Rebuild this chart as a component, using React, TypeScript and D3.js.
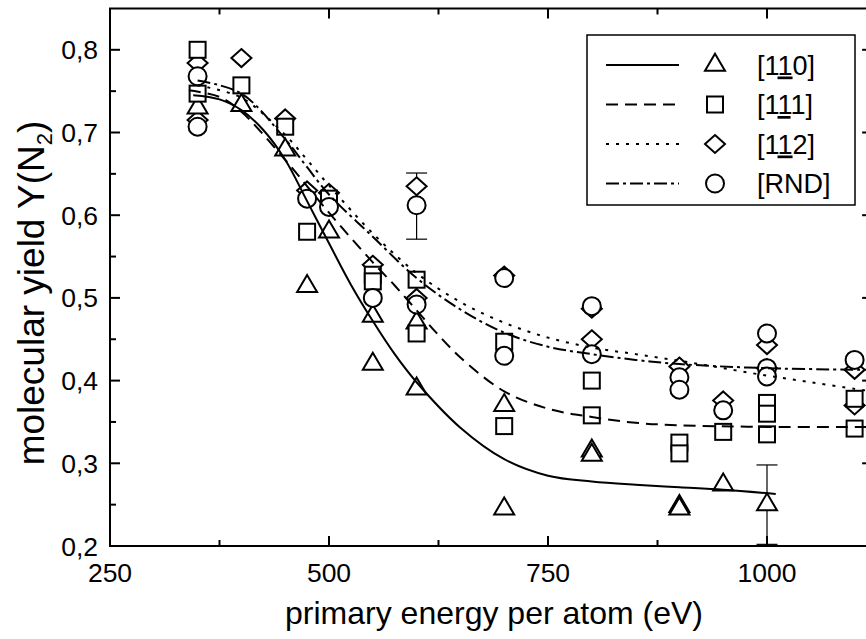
import React from "react";
import * as d3 from "d3";

// ---- data ----
const tri110: [number, number][] = [
  [350, 0.73], [400, 0.733], [450, 0.679], [475, 0.514], [500, 0.58],
  [550, 0.478], [550, 0.42], [600, 0.47], [600, 0.39], [700, 0.37], [700, 0.245],
  [800, 0.315], [800, 0.31], [900, 0.248], [900, 0.245], [950, 0.274], [1000, 0.25],
];
const sq111: [number, number][] = [
  [350, 0.8], [350, 0.747], [400, 0.757], [450, 0.707], [475, 0.58], [500, 0.62],
  [550, 0.528], [550, 0.52], [600, 0.522], [600, 0.457], [700, 0.447], [700, 0.345],
  [800, 0.4], [800, 0.358], [900, 0.325], [900, 0.312], [950, 0.338],
  [1000, 0.373], [1000, 0.36], [1000, 0.335], [1100, 0.378], [1100, 0.342],
];
const dia112: [number, number][] = [
  [350, 0.784], [350, 0.715], [400, 0.79], [450, 0.717], [475, 0.63], [500, 0.627],
  [550, 0.54], [600, 0.635], [600, 0.5], [700, 0.527], [800, 0.487], [800, 0.45],
  [900, 0.417], [950, 0.376], [1000, 0.443], [1000, 0.415], [1100, 0.413], [1100, 0.37],
];
const circRND: [number, number][] = [
  [350, 0.768], [350, 0.707], [475, 0.62], [500, 0.61], [550, 0.5], [600, 0.612],
  [600, 0.492], [700, 0.524], [700, 0.43], [800, 0.49], [800, 0.432], [900, 0.404],
  [900, 0.389], [950, 0.364], [1000, 0.457], [1000, 0.415], [1000, 0.405], [1100, 0.425],
];
// error bars: [x, center, half-width]
const errorBars: [number, number, number][] = [
  [600, 0.611, 0.04],
  [1000, 0.25, 0.048],
];
// fitted curves
const fit110: [number, number][] = [
  [345, 0.745], [375, 0.74], [400, 0.727], [425, 0.703], [450, 0.667], [475, 0.617],
  [500, 0.566], [525, 0.516], [550, 0.472], [575, 0.432], [600, 0.398], [650, 0.343],
  [700, 0.305], [750, 0.285], [800, 0.278], [850, 0.274], [900, 0.271], [950, 0.268], [1010, 0.263],
];
const fit111: [number, number][] = [
  [340, 0.751], [375, 0.743], [400, 0.725], [450, 0.667], [500, 0.603], [550, 0.543],
  [575, 0.515], [600, 0.485], [625, 0.455], [650, 0.428], [700, 0.387], [750, 0.366],
  [800, 0.356], [850, 0.349], [900, 0.346], [1000, 0.344], [1120, 0.344],
];
const fit112: [number, number][] = [
  [350, 0.757], [400, 0.742], [450, 0.697], [475, 0.667], [500, 0.636], [550, 0.578],
  [600, 0.53], [650, 0.495], [700, 0.47], [750, 0.452], [800, 0.44], [850, 0.432],
  [900, 0.424], [950, 0.415], [1000, 0.406], [1050, 0.398], [1100, 0.39], [1120, 0.387],
];
const fitRND: [number, number][] = [
  [350, 0.763], [400, 0.747], [450, 0.692], [475, 0.658], [500, 0.625], [550, 0.574],
  [600, 0.524], [650, 0.486], [700, 0.458], [750, 0.441], [800, 0.432], [850, 0.425],
  [900, 0.42], [1000, 0.415], [1120, 0.413],
];

const xMajorTicks = [250, 500, 750, 1000];
const xMinorTicks = [375, 625, 875];
const yMajorTicks = [0.2, 0.3, 0.4, 0.5, 0.6, 0.7, 0.8];
const yMinorTicks = [0.25, 0.35, 0.45, 0.55, 0.65, 0.75];
const yTickLabels = ["0,2", "0,3", "0,4", "0,5", "0,6", "0,7", "0,8"];

const W = 866, H = 639;
const left = 110, top = 8.45, bottom = 546;
const xS = d3.scaleLinear().domain([250, 1120]).range([left, left + 870 * 0.876]);
const yS = d3.scaleLinear().domain([0.2, 0.85]).range([bottom, top]);
const right = xS(1120);

const FONT = "'Liberation Sans', Arial, Helvetica, sans-serif";

type Shape = "tri" | "sq" | "dia" | "circ";

function Marker({ shape, x, y }: { shape: Shape; x: number; y: number }) {
  const common = { fill: "white", stroke: "black", strokeWidth: 2 };
  if (shape === "tri")
    return <path d={`M${x},${y - 11.3}L${x + 10},${y + 5.7}L${x - 10},${y + 5.7}Z`} {...common} />;
  if (shape === "sq") return <rect x={x - 8} y={y - 8} width={16} height={16} {...common} />;
  if (shape === "dia")
    return <path d={`M${x},${y - 9}L${x + 10},${y}L${x},${y + 9}L${x - 10},${y}Z`} {...common} />;
  return <circle cx={x} cy={y} r={9} {...common} />;
}

const line = d3
  .line<[number, number]>()
  .x((d) => xS(d[0]))
  .y((d) => yS(d[1]))
  .curve(d3.curveCatmullRom.alpha(0.5));

const curves: { data: [number, number][]; dash: string }[] = [
  { data: fit110, dash: "none" },
  { data: fit111, dash: "12 7" },
  { data: fit112, dash: "3 7" },
  { data: fitRND, dash: "13 4 3 4" },
];

const legendRows: { shape: Shape; dash: string; label: [string, string, string] }[] = [
  { shape: "tri", dash: "none", label: ["[1", "1", "0]"] },
  { shape: "sq", dash: "12 7", label: ["[1", "1", "1]"] },
  { shape: "dia", dash: "3 7", label: ["[1", "1", "2]"] },
  { shape: "circ", dash: "13 4 3 4", label: ["[RND]", "", ""] },
];

export default function App() {
  const series: { shape: Shape; data: [number, number][] }[] = [
    { shape: "dia", data: dia112 },
    { shape: "tri", data: tri110 },
    { shape: "sq", data: sq111 },
    { shape: "circ", data: circRND },
  ];
  const tickFont = 26.5;
  return (
    <svg
      width={W}
      height={H}
      style={{ position: "absolute", left: 0, top: 0, background: "white" }}
      fontFamily={FONT}
    >
      <rect x={0} y={0} width={W} height={H} fill="white" />
      {/* frame */}
      <path
        d={`M${right},${top}H${left}V${bottom}H${right}`}
        fill="none"
        stroke="black"
        strokeWidth={2}
      />
      <line x1={right} y1={top} x2={right} y2={bottom} stroke="black" strokeWidth={2} />
      {/* x ticks bottom & top */}
      {xMajorTicks.map((t) => (
        <g key={"xM" + t}>
          <line x1={xS(t)} x2={xS(t)} y1={bottom} y2={bottom - 10} stroke="black" strokeWidth={2} />
          <line x1={xS(t)} x2={xS(t)} y1={top} y2={top + 10} stroke="black" strokeWidth={2} />
          <text x={xS(t)} y={582} textAnchor="middle" fontSize={tickFont}>
            {t}
          </text>
        </g>
      ))}
      {xMinorTicks.map((t) => (
        <g key={"xm" + t}>
          <line x1={xS(t)} x2={xS(t)} y1={bottom} y2={bottom - 6} stroke="black" strokeWidth={2} />
          <line x1={xS(t)} x2={xS(t)} y1={top} y2={top + 6} stroke="black" strokeWidth={2} />
        </g>
      ))}
      {/* y ticks */}
      {yMajorTicks.map((t, i) => (
        <g key={"yM" + t}>
          <line x1={left} x2={left + 10} y1={yS(t)} y2={yS(t)} stroke="black" strokeWidth={2} />
          <line x1={right} x2={right - 10} y1={yS(t)} y2={yS(t)} stroke="black" strokeWidth={2} />
          <text x={98} y={yS(t) + 9.5} textAnchor="end" fontSize={tickFont}>
            {yTickLabels[i]}
          </text>
        </g>
      ))}
      {yMinorTicks.map((t) => (
        <g key={"ym" + t}>
          <line x1={left} x2={left + 6} y1={yS(t)} y2={yS(t)} stroke="black" strokeWidth={2} />
          <line x1={right} x2={right - 6} y1={yS(t)} y2={yS(t)} stroke="black" strokeWidth={2} />
        </g>
      ))}
      {/* axis titles */}
      <text x={494} y={624} textAnchor="middle" fontSize={32}>
        primary energy per atom (eV)
      </text>
      <text
        transform={`translate(44,293) rotate(-90)`}
        textAnchor="middle"
        fontSize={37}
      >
        molecular yield Y(N
        <tspan fontSize={22} dy={8}>
          2
        </tspan>
        <tspan dy={-8}>)</tspan>
      </text>
      {/* error bars */}
      {errorBars.map(([x, c, e], i) => (
        <g key={"eb" + i} stroke="black" strokeWidth={1.2}>
          <line x1={xS(x)} x2={xS(x)} y1={yS(c - e)} y2={yS(c + e)} />
          <line x1={xS(x) - 10.5} x2={xS(x) + 10.5} y1={yS(c + e)} y2={yS(c + e)} />
          <line x1={xS(x) - 10.5} x2={xS(x) + 10.5} y1={yS(c - e)} y2={yS(c - e)} />
        </g>
      ))}
      {/* markers */}
      {series.map((s) =>
        s.data.map((d, i) => <Marker key={s.shape + i} shape={s.shape} x={xS(d[0])} y={yS(d[1])} />)
      )}
      {/* curves */}
      {curves.map((c, i) => (
        <path
          key={"c" + i}
          d={line(c.data) || ""}
          fill="none"
          stroke="black"
          strokeWidth={2}
          strokeDasharray={c.dash}
        />
      ))}
      {/* legend */}
      <rect x={587} y={35} width={268} height={170} fill="white" stroke="black" strokeWidth={1.5} />
      {legendRows.map((r, i) => {
        const yy = 65 + i * 39.5;
        return (
          <g key={"lg" + i}>
            <line x1={606} x2={679} y1={yy} y2={yy} stroke="black" strokeWidth={2} strokeDasharray={r.dash} />
            <Marker shape={r.shape} x={715} y={yy} />
            <text x={757} y={yy + 9.5} fontSize={27}>
              {r.label[0]}
              {r.label[1] && <tspan textDecoration="underline">{r.label[1]}</tspan>}
              {r.label[2]}
            </text>
          </g>
        );
      })}
    </svg>
  );
}
